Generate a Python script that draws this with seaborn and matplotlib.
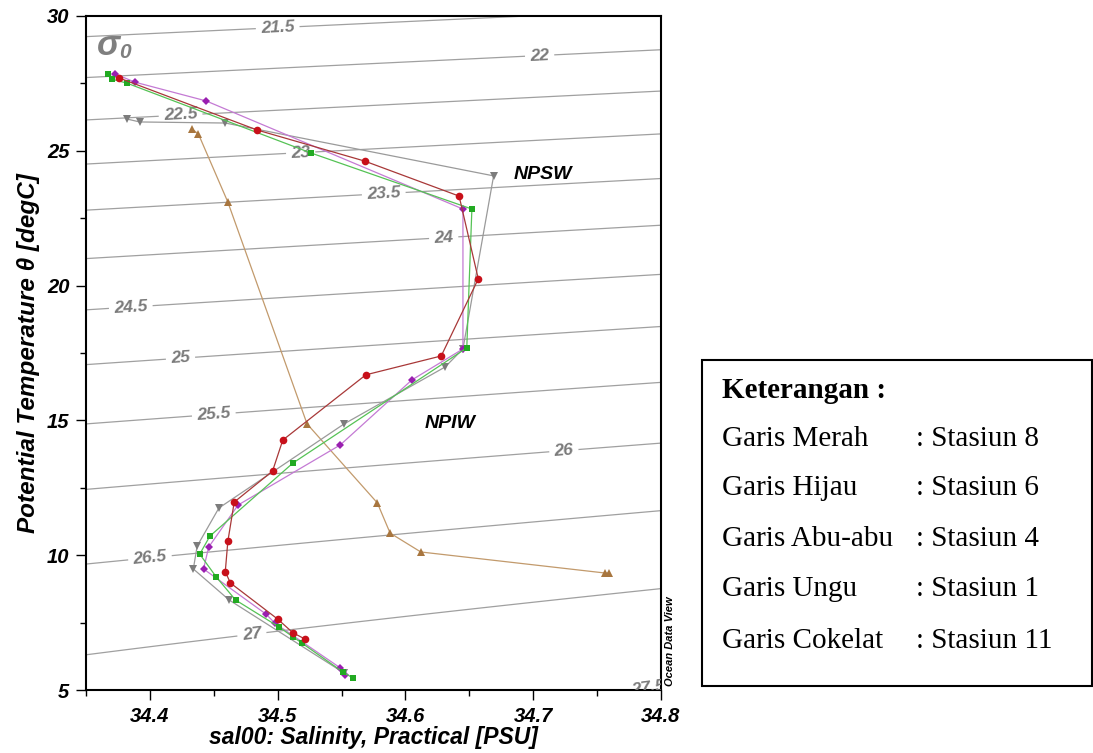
import numpy as np
import pandas as pd
import matplotlib
matplotlib.use("Agg")
import matplotlib.pyplot as plt
from matplotlib.patches import Rectangle
from matplotlib.ticker import MultipleLocator, FormatStrFormatter
import seaborn as sns

# salinity [PSU] and potential temperature [degC] per station
sal_st8 = [34.376, 34.484, 34.568, 34.642, 34.657, 34.628, 34.569, 34.504, 34.496,
           34.466, 34.461, 34.459, 34.463, 34.500, 34.512, 34.521]
temp_st8 = [27.70, 25.77, 24.62, 23.32, 20.25, 17.39, 16.69, 14.27, 13.12,
            11.97, 10.51, 9.39, 8.97, 7.63, 7.12, 6.90]

sal_st6 = [34.367, 34.370, 34.382, 34.526, 34.652, 34.648, 34.512, 34.447, 34.439,
           34.452, 34.467, 34.501, 34.512, 34.519, 34.551, 34.559]
temp_st6 = [27.85, 27.66, 27.51, 24.92, 22.84, 17.69, 13.42, 10.71, 10.04,
            9.19, 8.34, 7.34, 6.97, 6.74, 5.67, 5.44]

sal_st4 = [34.382, 34.392, 34.459, 34.669, 34.645, 34.631, 34.552, 34.454, 34.437,
           34.434, 34.462, 34.552]
temp_st4 = [26.18, 26.07, 26.03, 24.07, 17.65, 16.98, 14.87, 11.75, 10.34,
            9.49, 8.34, 5.63]

sal_st1 = [34.373, 34.388, 34.444, 34.645, 34.645, 34.605, 34.549, 34.469, 34.446,
           34.442, 34.491, 34.498, 34.549, 34.553]
temp_st1 = [27.85, 27.55, 26.85, 22.84, 17.65, 16.50, 14.09, 11.86, 10.30,
            9.49, 7.81, 7.47, 5.82, 5.56]

sal_st11 = [34.433, 34.438, 34.461, 34.523, 34.578, 34.588, 34.612, 34.756, 34.759]
temp_st11 = [25.81, 25.62, 23.10, 14.87, 11.94, 10.82, 10.12, 9.34, 9.34]

sigma_levels = np.arange(21.5, 27.6, 0.5)

legend_names = ["Garis Merah", "Garis Hijau", "Garis Abu-abu", "Garis Ungu", "Garis Cokelat"]
legend_stations = [": Stasiun 8", ": Stasiun 6", ": Stasiun 4", ": Stasiun 1", ": Stasiun 11"]


def sigma0(s, t):
    # UNESCO 1980 equation of state at surface pressure
    rho_w = (999.842594 + 6.793952e-2 * t - 9.095290e-3 * t**2 + 1.001685e-4 * t**3
             - 1.120083e-6 * t**4 + 6.536332e-9 * t**5)
    a = 0.824493 - 4.0899e-3 * t + 7.6438e-5 * t**2 - 8.2467e-7 * t**3 + 5.3875e-9 * t**4
    b = -5.72466e-3 + 1.0227e-4 * t - 1.6546e-6 * t**2
    return rho_w + a * s + b * s**1.5 + 4.8314e-4 * s**2 - 1000.0


sns.set_style("ticks")
plt.rcParams["font.family"] = ["Liberation Sans", "DejaVu Sans"]
plt.rcParams["font.weight"] = "bold"
plt.rcParams["font.style"] = "italic"
plt.rcParams["axes.labelweight"] = "bold"
for key in ["text.color", "axes.labelcolor", "xtick.color", "ytick.color"]:
    plt.rcParams[key] = "black"

fig = plt.figure(figsize=(10.93, 7.53), dpi=100)
ax = fig.add_axes([86 / 1093, 1 - 690 / 753, 575 / 1093, 674 / 753])

# isopycnals
sg, tg = np.meshgrid(np.linspace(34.35, 34.8, 300), np.linspace(5, 30, 400))
cs = ax.contour(sg, tg, sigma0(sg, tg), levels=sigma_levels, colors="#a0a0a0",
                linewidths=0.9, zorder=1)
label_pos = [(34.50, 29.59), (34.705, 28.55), (34.424, 26.33), (34.518, 24.92),
             (34.583, 23.43), (34.63, 21.77), (34.385, 19.24), (34.424, 17.28),
             (34.45, 15.24), (34.724, 13.87), (34.40, 9.93), (34.48, 7.0),
             (34.79, 5.07)]
ax.clabel(cs, fmt=lambda v: f"{v:g}", manual=label_pos, inline=True,
          fontsize=12.5, colors="#7a7a7a")

stations = [
    (sal_st11, temp_st11, "#c29a6c", "#a8763f", "^", 6),
    (sal_st4, temp_st4, "#9a9a9a", "#7c7c7c", "v", 6),
    (sal_st1, temp_st1, "#c47ad4", "#9a1fb0", "D", 4.2),
    (sal_st6, temp_st6, "#55c255", "#22aa22", "s", 5),
    (sal_st8, temp_st8, "#a83838", "#c8101a", "o", 5.5),
]
for i, (s, t, lc, mc, mk, ms) in enumerate(stations):
    df = pd.DataFrame({"sal": s, "temp": t})
    sns.lineplot(data=df, x="sal", y="temp", sort=False, estimator=None, ax=ax,
                 color=lc, lw=0.9, marker=mk, markersize=ms, markerfacecolor=mc,
                 markeredgecolor=mc, markeredgewidth=0, zorder=3 + i)

ax.set_xlim(34.35, 34.8)
ax.set_ylim(5, 30)
ax.xaxis.set_major_locator(MultipleLocator(0.1))
ax.xaxis.set_minor_locator(MultipleLocator(0.05))
ax.yaxis.set_major_locator(MultipleLocator(5))
ax.yaxis.set_minor_locator(MultipleLocator(2.5))
ax.xaxis.set_major_formatter(FormatStrFormatter("%.1f"))
ax.yaxis.set_major_formatter(FormatStrFormatter("%d"))
ax.tick_params(which="major", direction="out", length=7, width=1, labelsize=14.5, pad=5)
ax.tick_params(which="minor", direction="out", length=4, width=1)
for sp in ax.spines.values():
    sp.set_linewidth(1.5)
    sp.set_color("black")

ax.set_xlabel("sal00: Salinity, Practical [PSU]", fontsize=16.5, labelpad=0)
ax.set_ylabel("Potential Temperature θ [degC]", fontsize=17.5, labelpad=5)

ax.text(34.685, 24.12, "NPSW", fontsize=14, va="center", ha="left")
ax.text(34.615, 14.90, "NPIW", fontsize=14, va="center", ha="left")
ax.text(0.019, 0.942, "σ", transform=ax.transAxes, fontsize=25, color="#7f7f7f",
        va="baseline", ha="left")
ax.text(0.057, 0.938, "0", transform=ax.transAxes, fontsize=15, color="#7f7f7f",
        va="baseline", ha="left")
ax.text(1.016, 0.072, "Ocean Data View", transform=ax.transAxes, fontsize=8,
        rotation=90, ha="center", va="center")

# legend box on the right
fig.patches.append(Rectangle((702 / 1093, 1 - 686 / 753), 390 / 1093, 326 / 753,
                             transform=fig.transFigure, fill=False, edgecolor="black",
                             linewidth=1.5))
serif = ["Liberation Serif", "DejaVu Serif"]
fig.text(722 / 1093, 1 - 390 / 753, "Keterangan :", family=serif, fontsize=21,
         fontweight="bold", fontstyle="normal", va="center")
row_y = [439, 488, 539, 589, 641]
for name, st, y in zip(legend_names, legend_stations, row_y):
    fig.text(722 / 1093, 1 - y / 753, name, family=serif, fontsize=21,
             fontweight="normal", fontstyle="normal", va="center")
    fig.text(916 / 1093, 1 - y / 753, st, family=serif, fontsize=21,
             fontweight="normal", fontstyle="normal", va="center")

fig.savefig("out.png", dpi=100)
